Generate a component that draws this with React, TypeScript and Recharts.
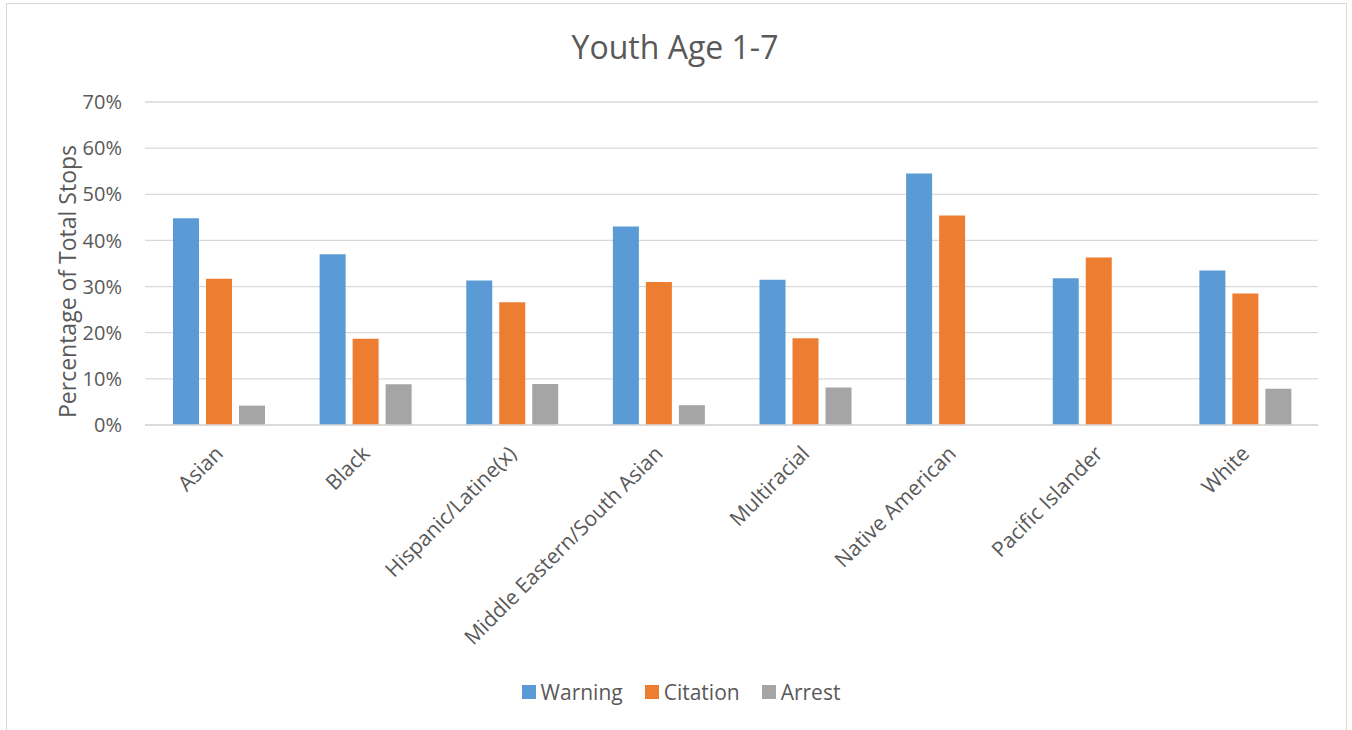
import { BarChart, Bar, XAxis, YAxis, CartesianGrid, Legend } from 'recharts';

const categories = [
  'Asian',
  'Black',
  'Hispanic/Latine(x)',
  'Middle Eastern/South Asian',
  'Multiracial',
  'Native American',
  'Pacific Islander',
  'White',
];

// percentages
const warning = [44.8, 37.0, 31.3, 43.0, 31.5, 54.5, 31.8, 33.5];
const citation = [31.7, 18.7, 26.6, 31.0, 18.8, 45.4, 36.3, 28.5];
const arrest = [4.2, 8.85, 8.9, 4.3, 8.1, 0, 0, 7.85];

const yTicks = [0, 10, 20, 30, 40, 50, 60, 70];

const seriesInfo = [
  { key: 'warning', name: 'Warning', color: '#5B9BD5' },
  { key: 'citation', name: 'Citation', color: '#ED7D31' },
  { key: 'arrest', name: 'Arrest', color: '#A5A5A5' },
];

const data = categories.map((name, i) => ({
  name,
  warning: warning[i],
  citation: citation[i],
  arrest: arrest[i],
}));

const TEXT = '#595959';
const GRID = '#D9D9D9';

const AngledTick = (props: any) => {
  const { x, y, payload } = props;
  return (
    <g transform={`translate(${x},${y})`}>
      <text
        x={6}
        y={28}
        textAnchor="end"
        fill={TEXT}
        fontSize={21}
        transform="rotate(-45 6 28)"
      >
        {payload.value}
      </text>
    </g>
  );
};

const YTitle = (props: any) => {
  const vb = props.viewBox || { x: 0, y: 0, width: 0, height: 0 };
  const cx = vb.x + 67;
  const cy = vb.y + vb.height / 2 + 18;
  return (
    <text
      x={cx}
      y={cy}
      transform={`rotate(-90 ${cx} ${cy})`}
      textAnchor="middle"
      dominantBaseline="central"
      fill={TEXT}
      fontSize={23}
    >
      Percentage of Total Stops
    </text>
  );
};

const LegendRow = () => (
  <div style={{ display: 'flex', justifyContent: 'center', alignItems: 'center', paddingLeft: 10 }}>
    {seriesInfo.map((s) => (
      <div key={s.key} style={{ display: 'flex', alignItems: 'center', margin: '0 11px' }}>
        <span style={{ width: 14, height: 14, background: s.color, display: 'inline-block', marginRight: 5 }} />
        <span style={{ fontSize: 21, color: TEXT }}>{s.name}</span>
      </div>
    ))}
  </div>
);

export default function App() {
  return (
    <div
      style={{
        position: 'absolute',
        left: 0,
        top: 0,
        width: 1352,
        height: 730,
        overflow: 'hidden',
        background: '#fff',
        fontFamily: "'Open Sans', sans-serif",
      }}
    >
      <div
        style={{
          position: 'absolute',
          left: 6,
          top: 3,
          width: 1339,
          height: 780,
          border: `1px solid ${GRID}`,
        }}
      />
      <div
        style={{
          position: 'absolute',
          left: 0,
          width: 1350,
          top: 25,
          textAlign: 'center',
          fontSize: 32,
          color: TEXT,
          lineHeight: 'normal',
        }}
      >
        Youth Age 1-7
      </div>
      <BarChart
        width={1352}
        height={730}
        data={data}
        margin={{ top: 102, right: 34, left: 0, bottom: 0 }}
        barCategoryGap={28}
        barGap={7}
      >
        <CartesianGrid vertical={false} stroke={GRID} strokeWidth={1.3} />
        <XAxis
          dataKey="name"
          height={305}
          interval={0}
          tickLine={false}
          tickSize={0}
          axisLine={{ stroke: GRID, strokeWidth: 1.3 }}
          tick={<AngledTick />}
        />
        <YAxis
          width={145}
          domain={[0, 70]}
          ticks={yTicks}
          tickFormatter={(v: number) => `${v}%`}
          axisLine={false}
          tickLine={false}
          tickSize={6}
          tickMargin={17}
          tick={{ fill: TEXT, fontSize: 20 }}
          label={<YTitle />}
        />
        <Legend
          layout="horizontal"
          verticalAlign="middle"
          align="center"
          content={<LegendRow />}
          wrapperStyle={{ position: 'absolute', top: 678, left: 0, width: 1352 }}
        />
        {seriesInfo.map((s) => (
          <Bar key={s.key} dataKey={s.key} name={s.name} fill={s.color} isAnimationActive={false} />
        ))}
      </BarChart>
    </div>
  );
}
